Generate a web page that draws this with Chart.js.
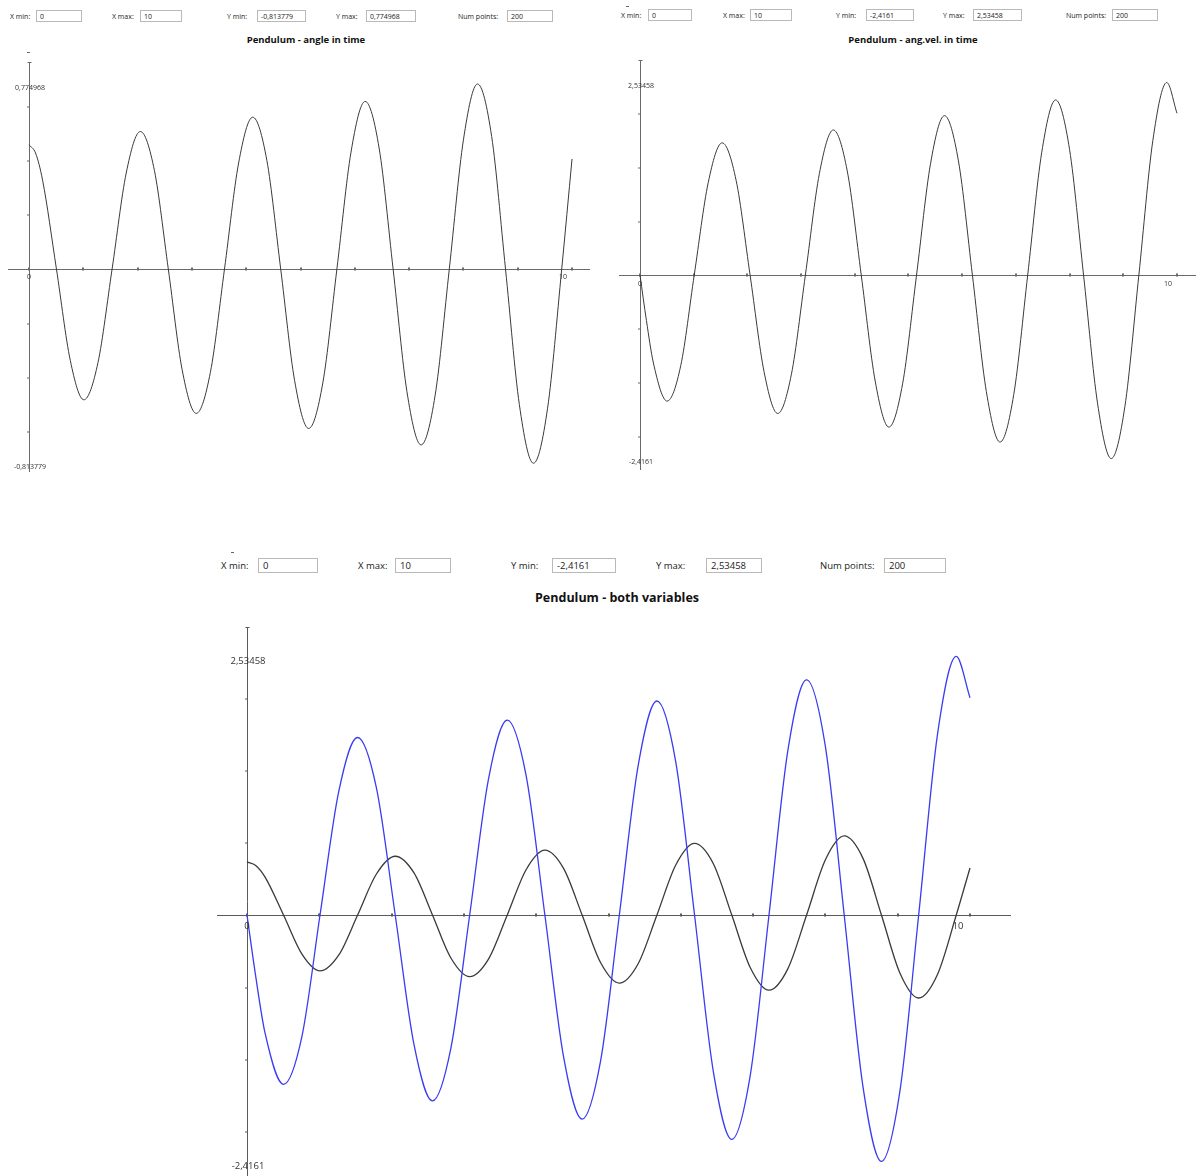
<!DOCTYPE html>
<html>
<head>
<meta charset="utf-8">
<title>Pendulum</title>
<script src="https://cdn.jsdelivr.net/npm/chart.js@4.4.1/dist/chart.umd.min.js"></script>
<style>
  html, body { margin: 0; padding: 0; background: #ffffff; }
  body { position: relative; width: 1196px; height: 1176px; overflow: hidden;
         font-family: "Open Sans", "Noto Sans", sans-serif; color: #222; }
  .lbl { position: absolute; white-space: nowrap; transform: translateY(-50%); color: #222; }
  .box { position: absolute; box-sizing: border-box; border: 1px solid #b9b9b9; background: #fff;
         white-space: nowrap; overflow: hidden; display: flex; align-items: center; color: #222; }
  .title { position: absolute; white-space: nowrap; font-weight: bold; color: #111;
           transform: translate(-50%, -50%); }
  .small .lbl, .small .box { font-size: 7px; }
  .small .box { padding-left: 3px; }
  .big .lbl, .big .box { font-size: 9.5px; }
  .big .box { padding-left: 4px; }
  .dash { position: absolute; height: 1px; background: #666; }
  canvas { position: absolute; }
</style>
</head>
<body>

<div id="panelA" class="small"></div>
<div id="panelB" class="small"></div>
<div id="panelC" class="big"></div>

<div class="title" style="left:306px;top:39px;font-size:9.5px;">Pendulum - angle in time</div>
<div class="title" style="left:913px;top:39px;font-size:9.5px;">Pendulum - ang.vel. in time</div>
<div class="title" style="left:617px;top:597px;font-size:12.5px;">Pendulum - both variables</div>

<div class="dash" style="left:27px;top:52px;width:3px;"></div>
<div class="dash" style="left:626px;top:6px;width:3px;"></div>
<div class="dash" style="left:231px;top:552px;width:3px;"></div>

<canvas id="angleChart" width="582" height="410" style="left:8px;top:62px;"></canvas>
<canvas id="velChart" width="577" height="410" style="left:619px;top:60px;"></canvas>
<canvas id="bothChart" width="794" height="549" style="left:217px;top:627px;"></canvas>

<script>
// Simulated pendulum: time samples, angle [rad] and angular velocity [rad/s]
const time = [
  0, 0.12, 0.25, 0.505, 0.76,
  1.01, 1.27, 1.53, 1.79,
  2.05, 2.31, 2.565, 2.82,
  3.08, 3.34, 3.60, 3.86,
  4.12, 4.38, 4.635, 4.89,
  5.15, 5.41, 5.67, 5.93,
  6.19, 6.45, 6.705, 6.96,
  7.22, 7.48, 7.74, 8.00,
  8.26, 8.52, 8.775, 9.03,
  9.29, 9.55, 9.81, 10
];
const angle = [
  0.52, 0.486, 0.372, 0, -0.383,
  -0.548, -0.392, 0, 0.402,
  0.576, 0.412, 0, -0.422,
  -0.605, -0.433, 0, 0.444,
  0.636, 0.455, 0, -0.466,
  -0.668, -0.478, 0, 0.490,
  0.702, 0.503, 0, -0.514,
  -0.737, -0.528, 0, 0.541,
  0.774968, 0.555, 0, -0.568,
  -0.813779, -0.583, 0, 0.461
];
const angVel = [
  0, -0.60, -1.159, -1.66, -1.189,
  0, 1.215, 1.74, 1.246,
  0, -1.272, -1.823, -1.305,
  0, 1.333, 1.91, 1.368,
  0, -1.397, -2.002, -1.433,
  0, 1.464, 2.098, 1.502,
  0, -1.535, -2.199, -1.574,
  0, 1.609, 2.305, 1.650,
  0, -1.686, -2.4161, -1.730,
  0, 1.769, 2.53458, 2.13
];
const xTicks = [0, 1, 2, 3, 4, 5, 6, 7, 8, 9, 10];
const xRange = [0, 10];
const numPoints = 200;

const fmt = v => String(v).replace('.', ',');
const pts = ys => time.map((t, i) => ({ x: t, y: ys[i] }));

// Parameter rows above each plot
function fillPanel(id, yMin, yMax, layout) {
  const host = document.getElementById(id);
  const fields = [
    ['X min:', fmt(xRange[0])],
    ['X max:', fmt(xRange[1])],
    ['Y min:', fmt(yMin)],
    ['Y max:', fmt(yMax)],
    ['Num points:', String(numPoints)]
  ];
  fields.forEach(([name, value], i) => {
    const f = layout.fields[i];
    const l = document.createElement('div');
    l.className = 'lbl';
    l.style.left = f[0] + 'px';
    l.style.top = layout.cy + 'px';
    l.textContent = name;
    host.appendChild(l);
    const b = document.createElement('div');
    b.className = 'box';
    b.style.left = f[1] + 'px';
    b.style.width = (f[2] - f[1]) + 'px';
    b.style.top = layout.boxTop + 'px';
    b.style.height = layout.boxH + 'px';
    b.textContent = value;
    host.appendChild(b);
  });
}

const angMin = Math.min(...angle), angMax = Math.max(...angle);
const velMin = Math.min(...angVel), velMax = Math.max(...angVel);

fillPanel('panelA', angMin, angMax, {
  cy: 16, boxTop: 10, boxH: 12,
  fields: [[10, 36, 82], [112, 140, 182], [227, 257, 306], [336, 366, 416], [458, 507, 553]]
});
fillPanel('panelB', velMin, velMax, {
  cy: 15, boxTop: 9, boxH: 12,
  fields: [[621, 648, 692], [723, 750, 792], [836, 866, 914], [943, 973, 1022], [1066, 1112, 1158]]
});
fillPanel('panelC', velMin, velMax, {
  cy: 565, boxTop: 558, boxH: 15,
  fields: [[221, 258, 318], [358, 395, 451], [511, 552, 616], [656, 706, 762], [820, 884, 946]]
});

// Axes crossing at the origin, with min/max labels on the vertical axis
const crossAxes = {
  id: 'crossAxes',
  beforeDatasetsDraw(chart, args, o) {
    const { ctx, chartArea: a, scales: { x, y } } = chart;
    const ox = Math.round(x.getPixelForValue(0)) + 0.5;
    const oy = Math.round(y.getPixelForValue(0)) + 0.5;
    ctx.save();
    ctx.strokeStyle = o.axisColor;
    ctx.lineWidth = 1;
    ctx.beginPath();
    ctx.moveTo(a.left, oy); ctx.lineTo(a.right, oy);
    ctx.moveTo(ox, a.top); ctx.lineTo(ox, a.bottom);
    ctx.moveTo(ox - 2, a.top + 0.5); ctx.lineTo(ox + 2, a.top + 0.5);
    ctx.stroke();
    ctx.fillStyle = o.axisColor;
    xTicks.forEach(v => {
      const px = x.getPixelForValue(v);
      ctx.fillRect(Math.round(px) - 1, oy - 2, 2, 3);
    });
    // vertical ticks share the horizontal unit spacing
    const step = x.getPixelForValue(1) - x.getPixelForValue(0);
    for (let p = oy - step; p > a.top + 4; p -= step) ctx.fillRect(ox - 2.5, Math.round(p) - 0.5, 3, 1);
    for (let p = oy + step; p < a.bottom - 4; p += step) ctx.fillRect(ox - 2.5, Math.round(p) - 0.5, 3, 1);
    ctx.restore();
  },
  afterDatasetsDraw(chart, args, o) {
    const { ctx, scales: { x, y } } = chart;
    const ox = x.getPixelForValue(0);
    const oy = y.getPixelForValue(0);
    ctx.save();
    ctx.font = o.font;
    ctx.fillStyle = o.textColor;
    ctx.textAlign = 'center';
    ctx.textBaseline = 'top';
    ctx.fillText(fmt(o.yMax), ox + 1, y.getPixelForValue(o.yMax));
    ctx.fillText(fmt(o.yMin), ox + 1, y.getPixelForValue(o.yMin));
    ctx.fillText(fmt(xTicks[0]), ox, oy + o.gap);
    const last = xTicks[xTicks.length - 1];
    ctx.fillText(fmt(last), x.getPixelForValue(last) - o.endShift, oy + o.gap);
    ctx.restore();
  }
};

function makeChart(id, datasets, range, axisOpts) {
  return new Chart(document.getElementById(id), {
    type: 'line',
    data: { datasets },
    options: {
      responsive: false,
      animation: false,
      devicePixelRatio: 1,
      events: [],
      layout: { padding: 0 },
      plugins: {
        legend: { display: false },
        tooltip: { enabled: false },
        title: { display: false },
        crossAxes: axisOpts
      },
      scales: {
        x: { type: 'linear', display: false, min: range[0], max: range[1] },
        y: { type: 'linear', display: false, min: range[2], max: range[3] }
      },
      elements: {
        point: { radius: 0 },
        line: { cubicInterpolationMode: 'monotone', fill: false }
      }
    },
    plugins: [crossAxes]
  });
}

makeChart('angleChart',
  [{ data: pts(angle), borderColor: '#3a3a3a', borderWidth: 1 }],
  [-0.387, 10.331, -0.8505, 0.8672],
  { axisColor: '#6a6a6a', textColor: '#333', font: '7px "Open Sans"', gap: 5,
    endShift: 9, yMin: angMin, yMax: angMax });

makeChart('velChart',
  [{ data: pts(angVel), borderColor: '#3a3a3a', borderWidth: 1 }],
  [-0.391, 10.354, -2.567, 2.831],
  { axisColor: '#6a6a6a', textColor: '#333', font: '7px "Open Sans"', gap: 5,
    endShift: 9, yMin: velMin, yMax: velMax });

makeChart('bothChart',
  [
    { data: pts(angVel), borderColor: '#3b3bf2', borderWidth: 1.3 },
    { data: pts(angle), borderColor: '#3a3a3a', borderWidth: 1.3 }
  ],
  [-0.415, 10.567, -2.5589, 2.8235],
  { axisColor: '#5a5a5a', textColor: '#333', font: '9.5px "Open Sans"', gap: 7,
    endShift: 12, yMin: velMin, yMax: velMax });
</script>
</body>
</html>
